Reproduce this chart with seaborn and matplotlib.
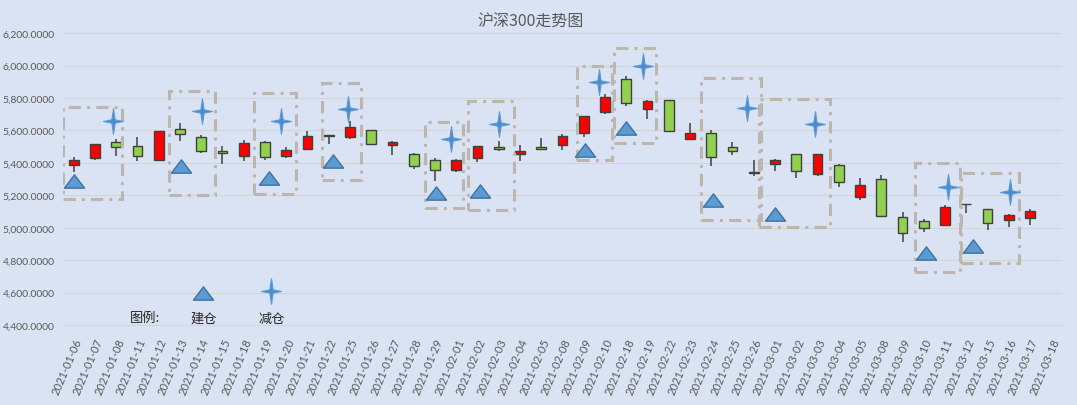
import numpy as np
import pandas as pd
import seaborn as sns
import matplotlib.pyplot as plt
from matplotlib.path import Path
from matplotlib.patches import Rectangle
from matplotlib.ticker import FuncFormatter, MultipleLocator

dates = ['2021-01-06', '2021-01-07', '2021-01-08', '2021-01-11', '2021-01-12', '2021-01-13',
         '2021-01-14', '2021-01-15', '2021-01-18', '2021-01-19', '2021-01-20', '2021-01-21',
         '2021-01-22', '2021-01-25', '2021-01-26', '2021-01-27', '2021-01-28', '2021-01-29',
         '2021-02-01', '2021-02-02', '2021-02-03', '2021-02-04', '2021-02-05', '2021-02-08',
         '2021-02-09', '2021-02-10', '2021-02-18', '2021-02-19', '2021-02-22', '2021-02-23',
         '2021-02-24', '2021-02-25', '2021-02-26', '2021-03-01', '2021-03-02', '2021-03-03',
         '2021-03-04', '2021-03-05', '2021-03-08', '2021-03-09', '2021-03-10', '2021-03-11',
         '2021-03-12', '2021-03-15', '2021-03-16', '2021-03-17', '2021-03-18']

opens = [5386, 5427, 5528, 5503, 5420, 5608, 5559, 5474, 5441, 5528, 5441, 5488,
         5569, 5560, 5602, 5509, 5454, 5417, 5355, 5429, 5497, 5454, 5497, 5509,
         5581, 5711, 5920, 5734, 5785, 5547, 5587, 5497, 5341, 5392, 5454, 5330,
         5386, 5190, 5299, 5063, 5044, 5019, 5147, 5113, 5047, 5060, np.nan]
highs = [5435, 5515, 5547, 5559, 5596, 5645, 5571, 5503, 5540, 5534, 5497, 5596,
         5574, 5655, 5602, 5537, 5460, 5431, 5425, 5503, 5537, 5511, 5552, 5577,
         5686, 5822, 5933, 5785, 5785, 5643, 5602, 5528, 5417, 5423, 5454, 5455,
         5392, 5306, 5324, 5094, 5052, 5137, 5147, 5118, 5082, 5118, np.nan]
lows = [5343, 5417, 5441, 5410, 5417, 5534, 5460, 5392, 5410, 5417, 5429, 5488,
        5515, 5547, 5509, 5448, 5363, 5285, 5343, 5408, 5472, 5410, 5478, 5478,
        5559, 5702, 5748, 5669, 5596, 5540, 5380, 5448, 5318, 5349, 5306, 5317,
        5253, 5171, 5073, 4912, 4974, 5019, 5088, 4987, 5007, 5017, np.nan]
closes = [5418, 5515, 5495, 5441, 5596, 5577, 5472, 5460, 5522, 5433, 5478, 5565,
          5567, 5624, 5515, 5528, 5380, 5355, 5417, 5503, 5484, 5472, 5484, 5565,
          5686, 5809, 5766, 5781, 5596, 5581, 5435, 5472, 5339, 5417, 5349, 5455,
          5280, 5262, 5073, 4968, 4999, 5127, 5145, 5030, 5076, 5100, np.nan]

# 建仓 / 减仓 signals (x as category position)
buy_x = [0.02, 5.04, 9.18, 12.2, 17.05, 19.1, 24.06, 26.0, 30.1, 33.0, 40.1, 42.3]
buy_y = [5287, 5383, 5308, 5413, 5212, 5227, 5478, 5614, 5172, 5085, 4841, 4885]
sell_x = [1.84, 6.03, 9.77, 12.93, 17.76, 20.0, 24.74, 26.78, 31.7, 34.9, 41.16, 44.06]
sell_y = [5661, 5721, 5655, 5735, 5545, 5638, 5900, 5998, 5741, 5638, 5253, 5222]

# highlighted ranges: x0, x1, y0, y1
box_x0 = [-0.49, 4.47, 8.49, 11.67, 16.52, 18.54, 23.67, 25.43, 29.52, 32.27, 39.6, 41.76]
box_x1 = [2.28, 6.65, 10.47, 13.52, 18.3, 20.72, 25.32, 27.4, 32.33, 35.6, 41.71, 44.46]
box_y0 = [5180, 5200, 5205, 5293, 5124, 5108, 5417, 5522, 5046, 5003, 4727, 4781]
box_y1 = [5742, 5846, 5832, 5892, 5649, 5782, 5998, 6109, 5922, 5793, 5402, 5340]

# hand-made legend
legend_buy = (6.07, 4596)
legend_sell = (9.27, 4610)
legend_texts = ['图例:', '建仓', '减仓']
legend_text_x = [3.36, 6.11, 9.31]
legend_text_y = [4448, 4445, 4440]

df = pd.DataFrame({'date': dates, 'open': opens, 'high': highs, 'low': lows, 'close': closes})
df['pos'] = np.arange(len(df))
df['up'] = df['close'] >= df['open']

bg = '#DAE3F3'
sns.set_theme(style='white', rc={'axes.facecolor': bg, 'figure.facecolor': bg})
plt.rcParams['font.family'] = ['Lato', 'Noto Sans CJK SC', 'DejaVu Sans']

fig = plt.figure(figsize=(10.77, 4.06), dpi=100)
ax = fig.add_axes([0.0585, 0.197, 0.9275, 0.719])

# wicks
ax.vlines(df['pos'], df['low'], df['high'], color='#404040', linewidth=1.1, zorder=2)
# bodies
body_lo = df[['open', 'close']].min(axis=1)
body_h = (df['close'] - df['open']).abs().clip(lower=1.5)
colors = np.where(df['up'], '#FF0000', '#92D050')
ax.bar(df['pos'], body_h, bottom=body_lo, width=0.46, color=colors,
       edgecolor='#404040', linewidth=1.0, zorder=3)

# boxes
for x0, x1, y0, y1 in zip(box_x0, box_x1, box_y0, box_y1):
    ax.add_patch(Rectangle((x0, y0), x1 - x0, y1 - y0, fill=False, edgecolor='#BDB6AF',
                           linewidth=2.2, linestyle=(0, (4, 2, 1, 2)), zorder=4))

tri = Path([(0, 0.66), (-1, -0.66), (1, -0.66), (0, 0.66)],
           [Path.MOVETO, Path.LINETO, Path.LINETO, Path.CLOSEPOLY])
k = 0.13
star_pts = [(0, 1), (k, k), (0.78, 0), (k, -k), (0, -1), (-k, -k), (-0.78, 0), (-k, k), (0, 1)]
star = Path(star_pts, [Path.MOVETO] + [Path.LINETO] * 7 + [Path.CLOSEPOLY])

sns.scatterplot(x=buy_x + [legend_buy[0]], y=buy_y + [legend_buy[1]], marker=tri, s=210,
                color='#5B9BD5', edgecolor='#41719C', linewidth=1.0, ax=ax, zorder=5)
sns.scatterplot(x=sell_x + [legend_sell[0]], y=sell_y + [legend_sell[1]], marker=star, s=340,
                color='#4A8BCB', edgecolor='#5E9AD6', linewidth=0.8, ax=ax, zorder=5)

for t, x, y in zip(legend_texts, legend_text_x, legend_text_y):
    ax.text(x, y, t, ha='center', va='center', fontsize=9.5, color='#262626',
            family=['Noto Sans CJK SC', 'DejaVu Sans'])

ax.set_xlim(-0.5, len(dates) - 0.5)
ax.set_ylim(4400, 6200)
ax.yaxis.set_major_locator(MultipleLocator(200))
ax.yaxis.set_major_formatter(FuncFormatter(lambda v, p: f'{v:,.4f}'))
ax.grid(axis='y', color='#D4D4D4', linewidth=0.8)
ax.set_axisbelow(True)

ax.set_xticks(df['pos'])
ax.set_xticklabels(dates, rotation=67, ha='right', va='top', rotation_mode='anchor')
ax.set_xticks(np.arange(-0.5, len(dates)), minor=True)
ax.tick_params(axis='x', which='major', length=0, pad=8, labelsize=8, labelcolor='#595959')
ax.tick_params(axis='x', which='minor', length=4, color='#D4D4D4', width=0.8)
ax.tick_params(axis='y', length=0, pad=6, labelsize=7.5, labelcolor='#595959')
for s in ['top', 'right', 'left']:
    ax.spines[s].set_visible(False)
ax.spines['bottom'].set_color('#D4D4D4')
ax.spines['bottom'].set_linewidth(0.8)
ax.set_xlabel('')
ax.set_ylabel('')

fig.text(0.4925, 0.946, '沪深300走势图', ha='center', va='center', fontsize=11.5,
         color='#595959', family=['Noto Sans CJK SC', 'DejaVu Sans'])

fig.savefig('out.png', dpi=100, facecolor=bg)
